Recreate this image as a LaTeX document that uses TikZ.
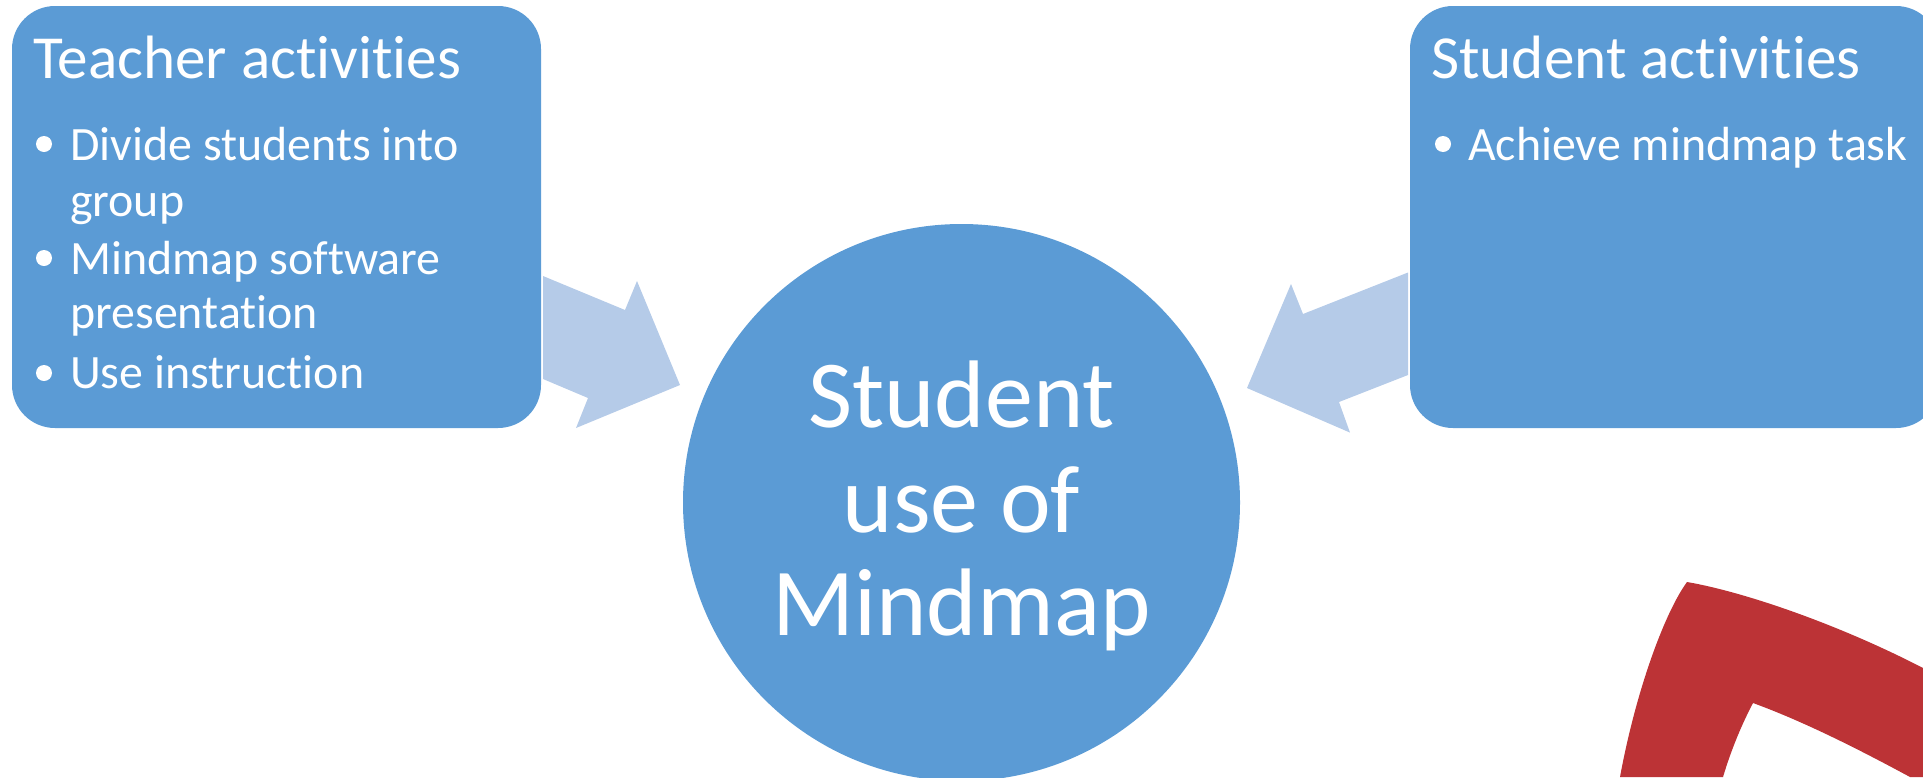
\documentclass[tikz,border=0pt]{standalone}
\usepackage{fontspec}
\setmainfont[Ligatures={NoCommon}]{Carlito}
\definecolor{boxblue}{HTML}{5B9BD5}
\definecolor{arrowblue}{HTML}{B5CBE8}
\definecolor{logored}{HTML}{BC3336}
\tikzset{
  x=1pt,y=-1pt,
  panel/.style={fill=boxblue,draw=none,rounded corners=43pt},
  flow/.style={fill=arrowblue,draw=none},
  head/.style={anchor=base west,text=white,font=\fontsize{61.2}{61.2}\selectfont,inner sep=0pt},
  item/.style={anchor=base west,text=white,font=\fontsize{47.9}{47.9}\selectfont,inner sep=0pt},
  dot/.style={fill=white,draw=none,circle,minimum size=16pt,inner sep=0pt},
  hub/.style={circle,fill=boxblue,draw=none,minimum size=557pt,inner sep=0pt},
  hubtext/.style={text=white,font=\fontsize{96}{96}\selectfont,inner sep=0pt,anchor=base}
}
\begin{document}
\begin{tikzpicture}
\useasboundingbox (0,0) rectangle (1923,777);
\clip (0,0) rectangle (1923,777);
\path[panel] (12,6) rectangle (541,428);
\path[panel] (1410,6) rectangle (1939,428);
\path[flow] (543,276) -- (625,310) -- (637,281) -- (680,385) -- (576,428) -- (588,398) -- (543,379) -- cycle;
\path[flow] (1408,272.5) -- (1303,314) -- (1291,284) -- (1247,388) -- (1350,432.6) -- (1339,402) -- (1408,375) -- cycle;
\node[hub] (c) at (961.5,502.5) {};
\path[fill=logored] (1687,582) .. controls (1745,592) and (1840,625) .. (1923,668) -- (1923,777) -- (1910,777) .. controls (1860,750) and (1805,722) .. (1753,703) .. controls (1743,722) and (1732,747) .. (1723,777) -- (1620,777) .. controls (1636,690) and (1665,612) .. (1687,582) -- cycle;
\node[head] (t1) at (33,78) {Teacher activities};
\node[head] (t2) at (1431,78) {Student activities};
\node[dot] (d1) at (44,144) {};
\node[item] (a1) at (70,160) {Divide students into};
\node[item] (a2) at (70,216) {group};
\node[dot] (d2) at (44,258) {};
\node[item] (a3) at (70,274) {Mindmap software};
\node[item] (a4) at (70,328) {presentation};
\node[dot] (d3) at (44,373) {};
\node[item] (a5) at (70,388) {Use instruction};
\node[dot] (d4) at (1443,144) {};
\node[item] (b1) at (1468,160) {Achieve mindmap task};
\node[hubtext] (h1) at (961.5,427.5) {Student};
\node[hubtext] (h2) at (961.5,532.5) {use of};
\node[hubtext] (h3) at (961.5,635.5) {Mindmap};
\end{tikzpicture}
\end{document}
